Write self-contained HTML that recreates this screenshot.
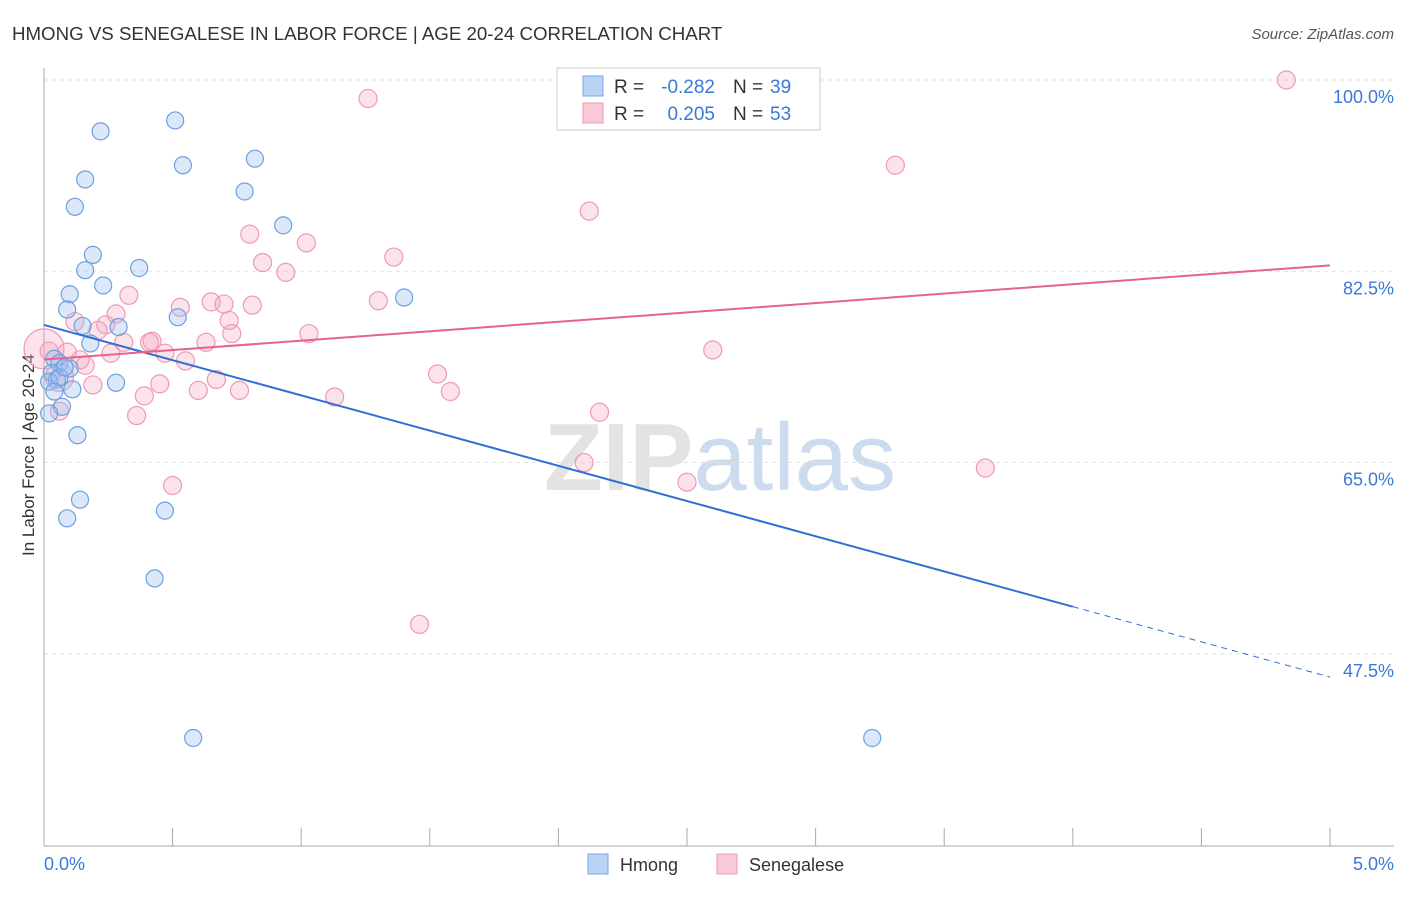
<!DOCTYPE html>
<html><head><meta charset="utf-8"><style>
body{margin:0;background:#fff;font-family:"Liberation Sans",sans-serif;}
svg text{font-family:"Liberation Sans",sans-serif;}
</style></head><body>
<svg width="1406" height="892" xmlns="http://www.w3.org/2000/svg">
<text x="12" y="40" font-size="18.7" fill="#333">HMONG VS SENEGALESE IN LABOR FORCE | AGE 20-24 CORRELATION CHART</text>
<text x="1394" y="39" font-size="15" fill="#555" text-anchor="end" font-style="italic">Source: ZipAtlas.com</text>
<text x="720" y="490" font-size="96" fill="#d8d8d8" text-anchor="middle" font-weight="bold" opacity="0.7">ZIP<tspan fill="#b8cde8" font-weight="normal">atlas</tspan></text>
<g id="grid"></g>
<line x1="44" y1="68" x2="44" y2="846" stroke="#aaa"/>
<line x1="44" y1="846" x2="1394" y2="846" stroke="#aaa"/>
<g id="ticks"></g>
<text x="34" y="455" font-size="17" fill="#333" text-anchor="middle" transform="rotate(-90 34 455)">In Labor Force | Age 20-24</text>
<text x="44" y="870" font-size="18" fill="#3b78d8">0.0%</text>
<text x="1394" y="870" font-size="18" fill="#3b78d8" text-anchor="end">5.0%</text>
<g id="pts"></g>
<g id="lines"></g>
<g>
<rect x="557" y="68" width="263" height="62" fill="#fff" stroke="#ccc"/>
<rect x="583" y="76" width="20" height="20" fill="#b9d3f5" stroke="#7aa6e6"/>
<rect x="583" y="103" width="20" height="20" fill="#f9c9d7" stroke="#ee9ab3"/>
<text x="614" y="93" font-size="19" fill="#333">R =</text>
<text x="715" y="93" font-size="19" fill="#3b78d8" text-anchor="end">-0.282</text>
<text x="733" y="93" font-size="19" fill="#333">N =</text>
<text x="770" y="93" font-size="19" fill="#3b78d8">39</text>
<text x="614" y="120" font-size="19" fill="#333">R =</text>
<text x="715" y="120" font-size="19" fill="#3b78d8" text-anchor="end">0.205</text>
<text x="733" y="120" font-size="19" fill="#333">N =</text>
<text x="770" y="120" font-size="19" fill="#3b78d8">53</text>
</g>
<g><rect x="588" y="854" width="20" height="20" fill="#b9d3f5" stroke="#7aa6e6"/><text x="620" y="871" font-size="18" fill="#333">Hmong</text></g>
<g><rect x="717" y="854" width="20" height="20" fill="#f9c9d7" stroke="#ee9ab3"/><text x="749" y="871" font-size="18" fill="#333">Senegalese</text></g>
</svg>
<script>
const yTicks=[100,82.5,65,47.5];
const xTickCount=10;
const hmongX=[0.22,0.51,0.16,0.54,0.12,0.82,0.78,0.93,0.19,0.16,0.37,0.23,0.10,0.09,0.52,1.40,0.15,0.29,0.18,0.04,0.06,0.03,0.10,0.05,0.02,0.11,0.28,0.07,0.02,0.13,0.14,0.09,0.47,0.43,0.58,3.22,0.06,0.08,0.04];
const hmongY=[95.3,96.3,90.9,92.2,88.4,92.8,89.8,86.7,84.0,82.6,82.8,81.2,80.4,79.0,78.3,80.1,77.5,77.4,75.9,74.5,74.1,73.2,73.6,72.6,72.4,71.7,72.3,70.1,69.5,67.5,61.6,59.9,60.6,54.4,39.8,39.8,72.8,73.7,71.5];
const senX=[4.83,1.26,3.31,2.12,0.80,1.02,1.36,0.85,0.94,0.33,0.53,0.65,0.70,0.81,1.30,0.12,0.28,0.24,0.72,0.21,0.73,1.03,0.31,0.42,0.41,0.63,0.09,0.47,0.26,0.14,0.55,0.16,2.60,0.02,0.19,0.45,0.60,0.67,0.76,0.39,1.13,1.53,1.58,2.16,0.36,0.06,2.10,2.50,3.66,0.50,1.46,0.0,0.06];
const senY=[100,98.3,92.2,88.0,85.9,85.1,83.8,83.3,82.4,80.3,79.2,79.7,79.5,79.4,79.8,77.9,78.6,77.6,78.0,77.1,76.8,76.8,76.0,76.1,76.0,76.0,75.1,75.0,75.0,74.4,74.3,73.9,75.3,75.2,72.1,72.2,71.6,72.6,71.6,71.1,71.0,73.1,71.5,69.6,69.3,69.7,65.0,63.2,64.5,62.9,50.2,75.4,72.8];
const bubbleR=[[51,20],[52,14]];
const X0=44,X1=1330,Y100=80,YPX=10.93;
const sx=v=>X0+v/5*(X1-X0), sy=v=>Y100+(100-v)*YPX;
const NS="http://www.w3.org/2000/svg";
function mk(t,a,p){const e=document.createElementNS(NS,t);for(const k in a)e.setAttribute(k,a[k]);p.appendChild(e);return e;}
const grid=document.getElementById('grid');
yTicks.forEach((t,i)=>{
 const l=mk('line',{x1:44,x2:1394,y1:sy(t),y2:sy(t),stroke:'#e2e2e2','stroke-dasharray':'4 4'},grid);
 
 
 const tx=mk('text',{x:1394,y:sy(t)+23,'font-size':18,fill:'#3b78d8','text-anchor':'end'},grid);
 tx.textContent=t.toFixed(1)+'%';
 
 
});
const tk=document.getElementById('ticks');
for(let i=0;i<=xTickCount;i++){const x=sx(i*5/xTickCount);
 const l=mk('line',{x1:x,x2:x,y1:828,y2:846,stroke:'#aaa'},tk);
 
 }
const pts=document.getElementById('pts');
senX.forEach((x,i)=>{let r=9;bubbleR.forEach(b=>{if(b[0]===i)r=b[1];});
 const c=mk('circle',{cx:sx(x),cy:sy(senY[i]),r:r,fill:'rgba(244,160,185,0.3)',stroke:'#ee9ab3','stroke-width':1.2},pts);
 
 });
hmongX.forEach((x,i)=>{
 const c=mk('circle',{cx:sx(x),cy:sy(hmongY[i]),r:8.5,fill:'rgba(150,190,240,0.35)',stroke:'#6f9fe0','stroke-width':1.2},pts);
 
 });
function fit(xs,ys){const n=xs.length,mx=xs.reduce((a,b)=>a+b)/n,my=ys.reduce((a,b)=>a+b)/n;let sxy=0,sxx=0;xs.forEach((x,i)=>{sxy+=(x-mx)*(ys[i]-my);sxx+=(x-mx)**2;});const b=sxy/sxx;return [my-b*mx,b];}
const L=document.getElementById('lines');
const [ha,hb]=fit(hmongX,hmongY);
let l=mk('line',{x1:sx(0),y1:sy(ha),x2:sx(4),y2:sy(ha+hb*4),stroke:'#2f6fd6','stroke-width':2},L);


l=mk('line',{x1:sx(4),y1:sy(ha+hb*4),x2:sx(5),y2:sy(ha+hb*5),stroke:'#2f6fd6','stroke-width':1,'stroke-dasharray':'6 5'},L);


const [sa,sb]=fit(senX,senY);
l=mk('line',{x1:sx(0),y1:sy(sa),x2:sx(5),y2:sy(sa+sb*5),stroke:'#e8628e','stroke-width':2},L);


</script>
</body></html>
